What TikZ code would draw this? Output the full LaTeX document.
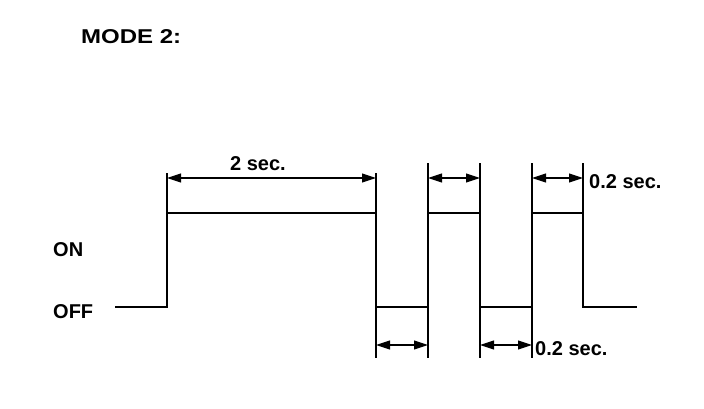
\documentclass[tikz,border=0pt]{standalone}
\usepackage{fontspec}
\setmainfont{Liberation Sans}
\usetikzlibrary{arrows.meta}
\tikzset{
  signal/.style={line width=2.8pt, line join=miter},
  dimline/.style={line width=1.1pt, {Triangle[length=14pt,width=9pt]}-{Triangle[length=14pt,width=9pt]}},
  extline/.style={line width=1.1pt},
  lbl/.style={font=\bfseries\fontsize{20}{20}\selectfont, inner sep=0pt},
}
\begin{document}
\begin{tikzpicture}[x=1pt,y=-1pt, line cap=butt]
        \useasboundingbox (0,0) rectangle (704,408);
        \node[lbl, anchor=west, xscale=1.2] (mode) at (81,37) {MODE 2:};
        \node[lbl, anchor=west] (on) at (53,250) {ON};
        \node[lbl, anchor=west] (off) at (53,312) {OFF};
        % corners of the pulse train
        \coordinate (start) at (115,307);
        \coordinate (up1) at (167,307);   \coordinate (hi1) at (167,213);
        \coordinate (hi2) at (376,213);   \coordinate (dn1) at (376,307);
        \coordinate (up2) at (428,307);   \coordinate (hi3) at (428,213);
        \coordinate (hi4) at (480,213);   \coordinate (dn2) at (480,307);
        \coordinate (up3) at (532,307);   \coordinate (hi5) at (532,213);
        \coordinate (hi6) at (583,213);   \coordinate (dn3) at (583,307);
        \coordinate (stop) at (637,307);
        \draw[signal] (start) -- (up1) -- (hi1) -- (hi2) -- (dn1) -- (up2) -- (hi3)
              -- (hi4) -- (dn2) -- (up3) -- (hi5) -- (hi6) -- (dn3) -- (stop);
        % extension lines
        \draw[extline] (hi1) -- ++(0,-40) (hi2) -- ++(0,-40);
        \foreach \c in {hi3,hi4,hi5,hi6}
            \draw[extline] (\c) -- ++(0,-50);
        \foreach \c in {dn1,up2,dn2,up3}
            \draw[extline] (\c) -- ++(0,51);
        % dimensions
        \draw[dimline] ([yshift=35pt]hi1) -- ([yshift=35pt]hi2);
        \node[lbl] (long) at (258,164) {2 sec.};
        \draw[dimline] ([yshift=35pt]hi3) -- ([yshift=35pt]hi4);
        \draw[dimline] ([yshift=35pt]hi5) -- ([yshift=35pt]hi6);
        \node[lbl, anchor=west] (short1) at (589,182) {0.2 sec.};
        \draw[dimline] ([yshift=-38pt]dn1) -- ([yshift=-38pt]up2);
        \draw[dimline] ([yshift=-38pt]dn2) -- ([yshift=-38pt]up3);
        \node[lbl, anchor=west] (short2) at (535,349) {0.2 sec.};
    \end{tikzpicture}
\end{document}
